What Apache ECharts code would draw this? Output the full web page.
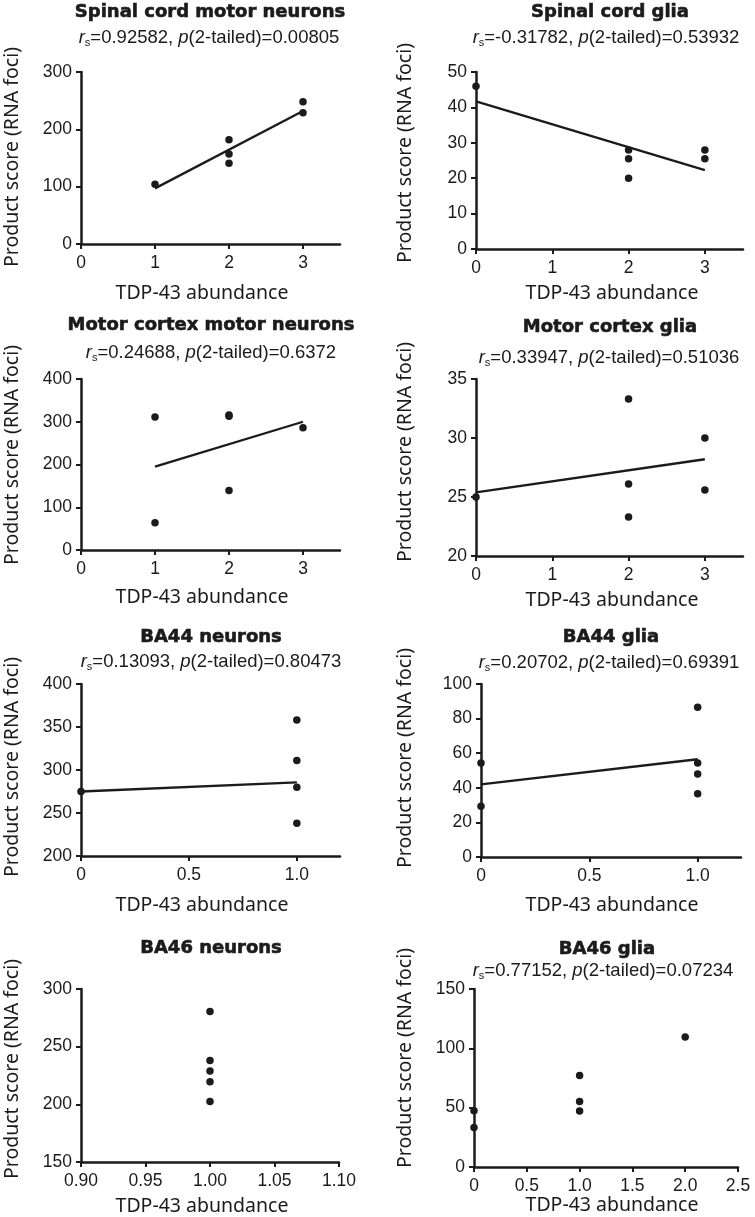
<!DOCTYPE html>
<html><head><meta charset="utf-8">
<script src="https://cdn.jsdelivr.net/npm/echarts@6/dist/echarts.min.js"></script>
<style>html,body{margin:0;padding:0;background:#fff}#c{width:755px;height:1217px}</style>
</head><body><div id="c"></div>
<script>
// ---- Data ----
const titles = ['Spinal cord motor neurons','Spinal cord glia','Motor cortex motor neurons','Motor cortex glia','BA44 neurons','BA44 glia','BA46 neurons','BA46 glia'];
const rsValues = ['0.92582','-0.31782','0.24688','0.33947','0.13093','0.20702',null,'0.77152'];
const pValues  = ['0.00805','0.53932','0.6372','0.51036','0.80473','0.69391',null,'0.07234'];

const scmnX = [1, 2, 2, 2, 3, 3];
const scmnY = [104, 182, 157, 141, 248, 229];
const scmnFitX = [1, 3];
const scmnFitY = [97, 232];

const scgX = [0, 2, 2, 2, 3, 3];
const scgY = [46, 28, 25.5, 20, 28, 25.5];
const scgFitX = [0, 3];
const scgFitY = [41.7, 22.3];

const mcmnX = [1, 1, 2, 2, 2, 3];
const mcmnY = [311, 64, 316, 313, 139, 286];
const mcmnFitX = [1, 3];
const mcmnFitY = [195, 300];

const mcgX = [0, 2, 2, 2, 3, 3];
const mcgY = [25, 33.3, 26.1, 23.3, 30, 25.6];
const mcgFitX = [0, 3];
const mcgFitY = [25.4, 28.2];

const ba44nX = [0, 1, 1, 1, 1];
const ba44nY = [275, 358, 311, 280, 238];
const ba44nFitX = [0, 1];
const ba44nFitY = [275, 285.5];

const ba44gX = [0, 0, 1, 1, 1, 1];
const ba44gY = [54.4, 29.4, 86.5, 54.4, 48, 36.5];
const ba44gFitX = [0, 1];
const ba44gFitY = [42, 56.5];

const ba46nX = [1, 1, 1, 1, 1];
const ba46nY = [280.5, 238, 229, 219.5, 202.5];

const ba46gX = [0, 0, 1, 1, 1, 2];
const ba46gY = [47.5, 33.3, 77.2, 55.3, 47.1, 109.5];

// axis tick values
const xTicks03 = [0, 1, 2, 3];
const xTicks01 = [0, 0.5, 1.0];
const xTicksBA46n = [0.90, 0.95, 1.00, 1.05, 1.10];
const xTicksBA46g = [0, 0.5, 1.0, 1.5, 2.0, 2.5];
const yRange = [[0,300,100],[0,50,10],[0,400,100],[20,35,5],[200,400,50],[0,100,20],[150,300,50],[0,150,50]];
const xRange = [[0,3.5],[0,3.5],[0,3.5],[0,3.5],[0,1.2],[0,1.2],[0.9,1.1],[0,2.5]];
const xTickSets = [xTicks03, xTicks03, xTicks03, xTicks03, xTicks01, xTicks01, xTicksBA46n, xTicksBA46g];

const ptsX = [scmnX, scgX, mcmnX, mcgX, ba44nX, ba44gX, ba46nX, ba46gX];
const ptsY = [scmnY, scgY, mcmnY, mcgY, ba44nY, ba44gY, ba46nY, ba46gY];
const fitX = [scmnFitX, scgFitX, mcmnFitX, mcgFitX, ba44nFitX, ba44gFitX, null, null];
const fitY = [scmnFitY, scgFitY, mcmnFitY, mcgFitY, ba44nFitY, ba44gFitY, null, null];

// ---- Layout ----
const grids = [
  {left:81, top:72, width:259, height:172},
  {left:476, top:72, width:267, height:177},
  {left:81, top:379, width:259, height:171},
  {left:476, top:379, width:267, height:177},
  {left:81, top:684, width:259, height:172},
  {left:481, top:684, width:260, height:173},
  {left:81, top:989, width:258, height:173},
  {left:474, top:989, width:264, height:178}
];
const titlePos = [[210,12],[610,12],[211,325],[610,327],[211,637],[611,637],[211,948],[607,949]];
const subPos = [[209,38],[606,38],[211,353],[609,358],[211,662],[609,663],null,[603,971]];
const xNamePos = [[202,293],[612,293],[202,597],[612,600],[202,905],[612,905],[202,1206],[612,1205]];
const yNamePos = [[12,157],[405,153],[12,455],[405,452],[12,767],[405,758],[12,1069],[405,1058]];

const INK = '#1c1a1a';
const fmtX = [
  v => String(v), v => String(v), v => String(v), v => String(v),
  v => v === 0 ? '0' : v.toFixed(1), v => v === 0 ? '0' : v.toFixed(1),
  v => v.toFixed(2), v => v === 0 ? '0' : v.toFixed(1)
];

const option = {
  animation: false,
  backgroundColor: '#fff',
  grid: [], xAxis: [], yAxis: [], series: [], graphic: []
};

for (let i = 0; i < 8; i++) {
  option.grid.push(Object.assign({containLabel:false}, grids[i]));
  option.xAxis.push({
    type:'value', gridIndex:i, min:xRange[i][0], max:xRange[i][1],
    axisLine:{show:true, onZero:false, lineStyle:{color:INK, width:2.5}},
    axisTick:{show:true, length:5, customValues:xTickSets[i], lineStyle:{color:INK, width:2}},
    axisLabel:{show:true, customValues:xTickSets[i], formatter:fmtX[i], margin:10,
      fontFamily:'Liberation Sans', fontSize:17.5, color:INK},
    splitLine:{show:false}
  });
  option.yAxis.push({
    type:'value', gridIndex:i, min:yRange[i][0], max:yRange[i][1], interval:yRange[i][2],
    axisLine:{show:true, onZero:false, lineStyle:{color:INK, width:2.5}},
    axisTick:{show:true, length:5, lineStyle:{color:INK, width:2}},
    axisLabel:{show:true, margin:9, fontFamily:'Liberation Sans', fontSize:17.5, color:INK},
    splitLine:{show:false}
  });
  if (fitX[i]) {
    option.series.push({
      type:'line', xAxisIndex:i, yAxisIndex:i, symbol:'none', clip:false,
      data: fitX[i].map((x, k) => [x, fitY[i][k]]),
      lineStyle:{color:INK, width:2.3}, z:2
    });
  }
  option.series.push({
    type:'scatter', xAxisIndex:i, yAxisIndex:i, clip:false, symbol:'circle', symbolSize:7.5,
    data: ptsX[i].map((x, k) => [x, ptsY[i][k]]),
    itemStyle:{color:INK, opacity:1}, z:3
  });
  option.graphic.push({
    type:'text', x:titlePos[i][0], y:titlePos[i][1],
    style:{text:titles[i], fontFamily:'DejaVu Sans', fontWeight:'bold', fontSize:18, fill:INK,
      stroke:INK, lineWidth:0.6, align:'center', verticalAlign:'middle'}
  });
  if (rsValues[i] !== null) {
    option.graphic.push({
      type:'text', x:subPos[i][0], y:subPos[i][1],
      style:{
        text:'{i|r}{s|s}{n|=' + rsValues[i] + ', }{i|p}{n|(2-tailed)=' + pValues[i] + '}',
        fontFamily:'Liberation Sans', fontSize:18.5, fill:INK, align:'center', verticalAlign:'middle',
        rich:{
          n:{fontFamily:'Liberation Sans', fontSize:18.5, lineHeight:20, verticalAlign:'top', fill:INK},
          i:{fontFamily:'Liberation Sans', fontSize:18.5, fontStyle:'italic', lineHeight:20, verticalAlign:'top', fill:INK},
          s:{fontFamily:'Liberation Sans', fontSize:11, lineHeight:11, padding:[15,0,0,0], verticalAlign:'bottom', fill:INK}
        }
      }
    });
  }
  option.graphic.push({
    type:'text', x:xNamePos[i][0], y:xNamePos[i][1],
    style:{text:'TDP-43 abundance', fontFamily:'Noto Sans', fontSize:19.5, fill:INK, align:'center', verticalAlign:'middle'}
  });
  option.graphic.push({
    type:'text', x:yNamePos[i][0], y:yNamePos[i][1], rotation:Math.PI/2,
    style:{text:'Product score (RNA foci)', fontFamily:'Noto Sans', fontSize:19.5, fill:INK, align:'center', verticalAlign:'middle'}
  });
}

const chart = echarts.init(document.getElementById('c'), null, {renderer:'canvas'});
chart.setOption(option);
</script>
</body></html>
